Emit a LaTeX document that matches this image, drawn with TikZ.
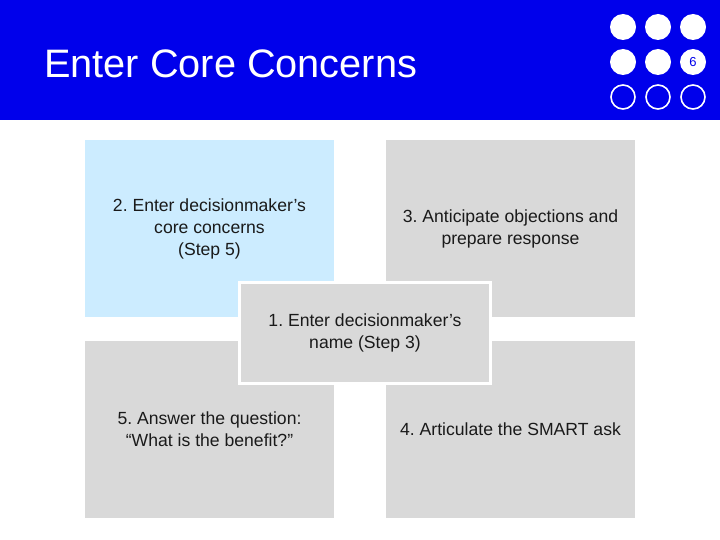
\documentclass[tikz,border=0pt]{standalone}
\usepackage{fontspec}
\setmainfont{Liberation Sans}
\usepackage{tikz}
\definecolor{bandblue}{RGB}{0,0,235}
\definecolor{paleblue}{RGB}{204,236,255}
\definecolor{boxgray}{RGB}{217,217,217}
\definecolor{textdark}{RGB}{26,26,26}
\frenchspacing

\begin{document}
\begin{tikzpicture}[x=1pt, y=-1pt,
    card/.style={minimum width=249pt, minimum height=177pt, inner sep=0pt,
        align=center, text=textdark, font=\fontsize{17.6}{22}\selectfont},
    hub/.style={card, minimum width=251pt, minimum height=101pt,
        fill=boxgray, draw=white, line width=3pt},
    dot/.style={circle, fill=white, minimum size=26pt, inner sep=0pt},
    ring/.style={circle, draw=white, line width=1.6pt, minimum size=24pt, inner sep=0pt}]
    \useasboundingbox (0,0) rectangle (720,540);

    % Title band
    \fill[bandblue] (0,0) rectangle (720,120);
    \node[anchor=base west, text=white, font=\fontsize{39.7}{44}\selectfont, inner sep=0pt]
        (title) at (44,78) {Enter Core Concerns};

    % Slide counter dots
    \foreach \i/\x in {1/623,2/658,3/693} {
        \node[dot] (top\i) at (\x,27) {};
        \node[ring] (low\i) at (\x,97) {};
    }
    \node[dot] (mid1) at (623,62) {};
    \node[dot] (mid2) at (658,62) {};
    \node[dot, text=bandblue, font=\fontsize{13}{15}\selectfont] (mid3) at (693,62) {6};

    % Four cards
    \node[card, fill=paleblue] (concerns) at (209.5,228.5)
        {2. Enter decisionmaker’s\\core concerns\\(Step 5)};
    \node[card, fill=boxgray] (objections) at (510.5,228.5)
        {3. Anticipate objections and\\prepare response};
    \node[card, fill=boxgray] (benefit) at (209.5,429.5)
        {5. Answer the question:\\“What is the benefit?”};
    \node[card, fill=boxgray] (ask) at (510.5,429.5)
        {4. Articulate the SMART ask};

    % Centre card
    \node[hub] (name) at (365,333) {1. Enter decisionmaker’s\\name (Step 3)};
\end{tikzpicture}
\end{document}
